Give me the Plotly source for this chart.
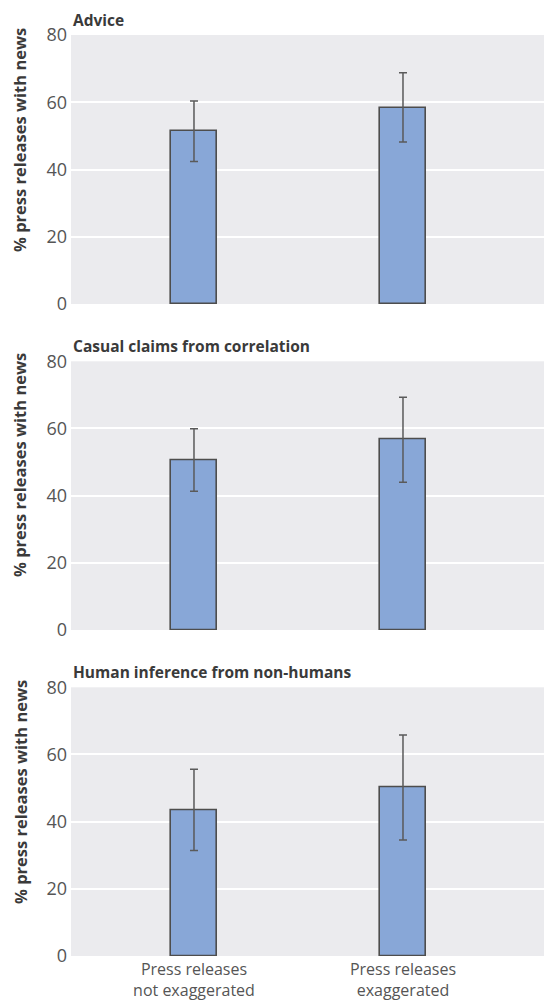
import plotly.graph_objects as go

panel_titles = ["Advice", "Casual claims from correlation", "Human inference from non-humans"]
categories = ["Press releases<br>not exaggerated", "Press releases<br>exaggerated"]
values = [[51.4, 58.4], [50.6, 56.7], [43.5, 50.1]]
ci_upper = [[60.4, 68.8], [59.9, 69.3], [55.6, 65.8]]
ci_lower = [[42.4, 48.2], [41.3, 44.0], [31.4, 34.5]]
y_ticks = [0, 20, 40, 60, 80]
y_title = "% press releases with news"

OFF = 8  # browser body margin
W, H = 552 - OFF, 1003 - OFF
ML, MR, MT, MB = 71 - OFF, 0, 10, 47
area_h = H - MT - MB


def frac(ypix):
    return (H - MB - (ypix - OFF)) / area_h


domains = [(frac(304), frac(35)), (frac(630), frac(361.3)), (frac(956), frac(687.3))]
ytitle_centers = [140, 465, 792]

FONT = "Open Sans"
fig = go.Figure()
xpos = [0, 1]
for i in range(3):
    up = [u - v for u, v in zip(ci_upper[i], values[i])]
    dn = [v - l for v, l in zip(values[i], ci_lower[i])]
    fig.add_trace(go.Bar(
        x=xpos, y=values[i], width=0.22,
        marker=dict(color="#88a7d7", line=dict(color="#4d4d4d", width=1.6)),
        error_y=dict(type="data", symmetric=False, array=up, arrayminus=dn,
                     color="#5a5a5a", thickness=1.5, width=4),
        xaxis="x" if i == 0 else f"x{i+1}",
        yaxis="y" if i == 0 else f"y{i+1}",
        showlegend=False, hoverinfo="skip",
    ))

layout = dict(
    width=W, height=H,
    margin=dict(l=ML, r=MR, t=MT, b=MB),
    paper_bgcolor="white",
    plot_bgcolor="#ebebee",
    bargap=0,
)
annotations = []
for i in range(3):
    xk = "xaxis" if i == 0 else f"xaxis{i+1}"
    yk = "yaxis" if i == 0 else f"yaxis{i+1}"
    ya = "y" if i == 0 else f"y{i+1}"
    layout[xk] = dict(
        domain=[0, 1], anchor=ya, range=[-0.5885, 1.713],
        tickvals=xpos, ticktext=categories if i == 2 else ["", ""],
        showgrid=False, zeroline=False, showline=False, ticks="",
        tickfont=dict(family=FONT, size=16, color="#555555"),
        ticklabelstandoff=2, automargin=False,
    )
    layout[yk] = dict(
        domain=list(domains[i]), anchor="x" if i == 0 else f"x{i+1}",
        range=[0, 80], tickvals=y_ticks,
        showgrid=True, gridcolor="white", gridwidth=2,
        zeroline=False, showline=False, ticks="",
        tickfont=dict(family=FONT, size=18, color="#555555"),
        ticklabelstandoff=3, automargin=False,
    )
    annotations.append(dict(
        text=f"<b>{panel_titles[i]}</b>", xref="paper", yref="paper",
        x=0, y=domains[i][1], xanchor="left", yanchor="bottom", yshift=2,
        showarrow=False, font=dict(family=FONT, size=15.5, color="#3a3a3a"),
    ))
    annotations.append(dict(
        text=f"<b>{y_title}</b>", xref="paper", yref="paper",
        x=(20 - 71) / (W - ML - MR), y=frac(ytitle_centers[i]),
        xanchor="center", yanchor="middle", textangle=-90,
        showarrow=False, font=dict(family=FONT, size=16.5, color="#3a3a3a"),
    ))
layout["annotations"] = annotations
fig.update_layout(**layout)
fig.write_html("out.html")
